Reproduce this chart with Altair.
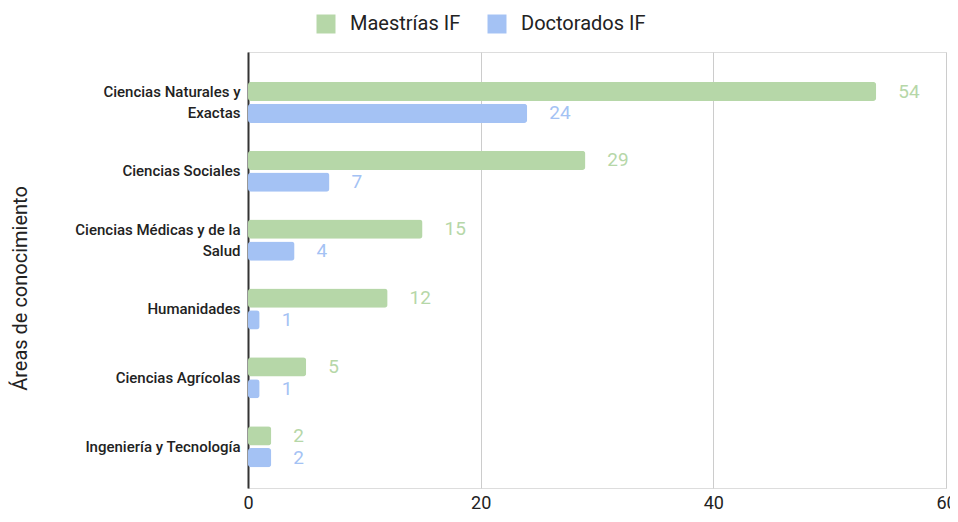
import altair as alt
import pandas as pd

areas = ["Ciencias Naturales y Exactas", "Ciencias Sociales", "Ciencias Médicas y de la Salud",
         "Humanidades", "Ciencias Agrícolas", "Ingeniería y Tecnología"]
maestrias = [54, 29, 15, 12, 5, 2]
doctorados = [24, 7, 4, 1, 1, 2]
series = ["Maestrías IF", "Doctorados IF"]
colors = ["#b6d7a8", "#a4c2f4"]

rows = []
for a, m, d in zip(areas, maestrias, doctorados):
    rows.append({"area": a, "serie": series[0], "valor": m})
    rows.append({"area": a, "serie": series[1], "valor": d})
df = pd.DataFrame(rows)

label_expr = ("datum.value == 'Ciencias Naturales y Exactas' ? ['Ciencias Naturales y', 'Exactas'] : "
              "datum.value == 'Ciencias Médicas y de la Salud' ? ['Ciencias Médicas y de la', 'Salud'] : datum.value")
wrapped_test = ("datum.value == 'Ciencias Naturales y Exactas' || "
                "datum.value == 'Ciencias Médicas y de la Salud'")

y_enc = alt.Y("area:N", sort=areas,
              scale=alt.Scale(paddingInner=0.404, paddingOuter=0.368, align=0.59),
              axis=alt.Axis(title="Áreas de conocimiento", labelExpr=label_expr,
                            labelFont="Roboto", labelFontSize=15, labelFontWeight=500,
                            labelColor="#222222", labelLineHeight=21, labelPadding=8,
                            labelOffset={"condition": {"test": wrapped_test, "value": -10.5}, "value": 0},
                            ticks=False, domain=True, domainColor="#333333", domainWidth=2,
                            titleFont="Roboto", titleFontSize=20, titleFontWeight="normal",
                            titleColor="#222222", titleAngle=-90, titleX=-228, titleY=236,
                            titleAlign="center", titleBaseline="middle", grid=False))
yoff = alt.YOffset("serie:N", sort=series, scale=alt.Scale(paddingInner=0.12))
color = alt.Color("serie:N", sort=series,
                  scale=alt.Scale(domain=series, range=colors),
                  legend=alt.Legend(title=None, orient="none", direction="horizontal",
                                    legendX=68, legendY=-38, symbolType="square",
                                    symbolSize=361, symbolStrokeWidth=0, symbolOpacity=1,
                                    labelFont="Roboto", labelFontSize=20, labelColor="#222222",
                                    labelOffset=14, columnPadding=26))

x_enc = alt.X("valor:Q", scale=alt.Scale(domain=[0, 60]),
              axis=alt.Axis(title=None, values=[0, 20, 40, 60], grid=True,
                            gridColor="#cccccc", gridWidth=1, domain=False, ticks=False,
                            labelFont="Roboto", labelFontSize=18, labelColor="#222222",
                            labelPadding=6, labelFlush=False))

bars = alt.Chart(df).mark_bar(cornerRadius=3).encode(
    x=x_enc, y=y_enc, yOffset=yoff, color=color)

labels = alt.Chart(df).mark_text(align="left", baseline="middle", dx=22,
                                 font="Roboto", fontSize=19).encode(
    x="valor:Q", y=alt.Y("area:N", sort=areas), yOffset=yoff,
    text="valor:Q",
    color=alt.Color("serie:N", sort=series, scale=alt.Scale(domain=series, range=colors), legend=None))

chart = alt.layer(bars, labels).properties(
    width=698, height=436, autosize="none",
    padding={"left": 240, "top": 44, "right": 4, "bottom": 26},
).configure_view(stroke=None).configure(background="white")

chart.save("out.html", embed_options={"renderer": "svg", "actions": False})
